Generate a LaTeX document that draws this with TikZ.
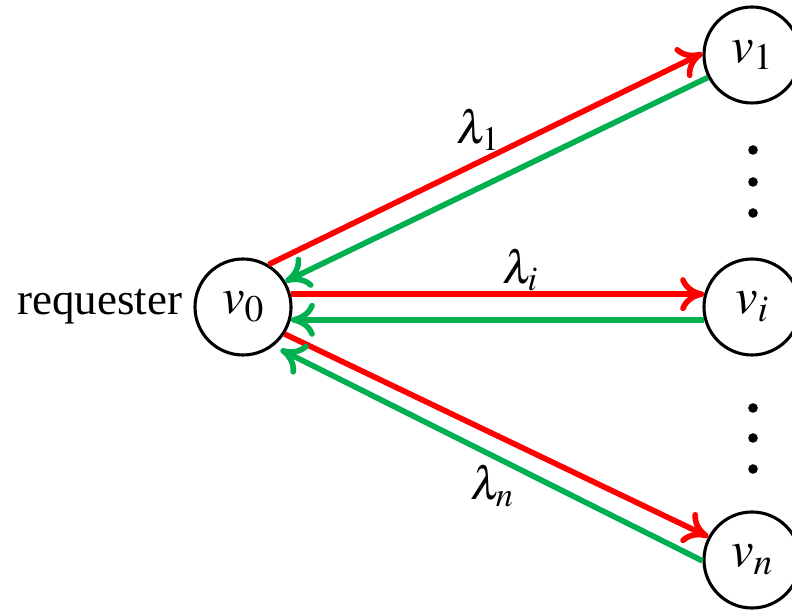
\documentclass[tikz,border=0pt]{standalone}
\usepackage{mathptmx}
\usepackage{fontspec}
\setmainfont{Liberation Serif}
\usetikzlibrary{arrows.meta, positioning}
\definecolor{cred}{HTML}{FF0000}
\definecolor{cgreen}{HTML}{00B050}
\tikzset{
  every picture/.style={line width=2pt},
  peer/.style={draw, circle, minimum size=2.4cm, inner sep=0pt, line width=2.2pt, font=\fontsize{36}{40}\selectfont},
  req/.style={-{Computer Modern Rightarrow[length=6mm, width=8.5mm]}, draw=cred, line width=4pt},
  rep/.style={-{Computer Modern Rightarrow[length=6mm, width=8.5mm]}, draw=cgreen, line width=4pt},
  rate/.style={font=\fontsize{33}{38}\selectfont, inner sep=0pt},
  dot/.style={circle, fill, inner sep=0pt, minimum size=0.24cm},
}

\begin{document}
\begin{tikzpicture}
  \useasboundingbox (0,0) rectangle (19.8,15.25);
  % requester on the left, one column of peers on the right
  \node[peer] (v0) at (6.075,7.575) {$v_0$};
  \node[peer] (v1) at (18.8,13.875) {$v_1$};
  \node[peer] (vi) at (18.8,7.575) {$v_i$};
  \node[peer] (vn) at (18.8,1.25) {$v_n$};
  \node[rate, font=\fontsize{32}{36}\selectfont, left=0.25cm of v0] (req) {requester};
  % elided peers
  \foreach \y in {150,182,213,408,438,469} {
    \node[dot] (dot\y) at (18.825,{(610-\y)/40}) {};
  }
  % red: request out, green: answer back
  \draw[req] (v0.59) -- (v1.178);
  \draw[rep] (v1.207) -- (v0.31);
  \draw[req] (v0.15) -- (vi.165);
  \draw[rep] (vi.195) -- (v0.-15);
  \draw[req] (v0.-33) -- (vn.152);
  \draw[rep, shorten >=0.2cm] (vn.181) -- (v0.-52);
  % rates
  \node[rate] (l1) at (11.95,12.0) {$\lambda_1$};
  \node[rate] (li) at (13.0,8.5) {$\lambda_i$};
  \node[rate] (ln) at (12.3,3.1) {$\lambda_n$};
\end{tikzpicture}
\end{document}
